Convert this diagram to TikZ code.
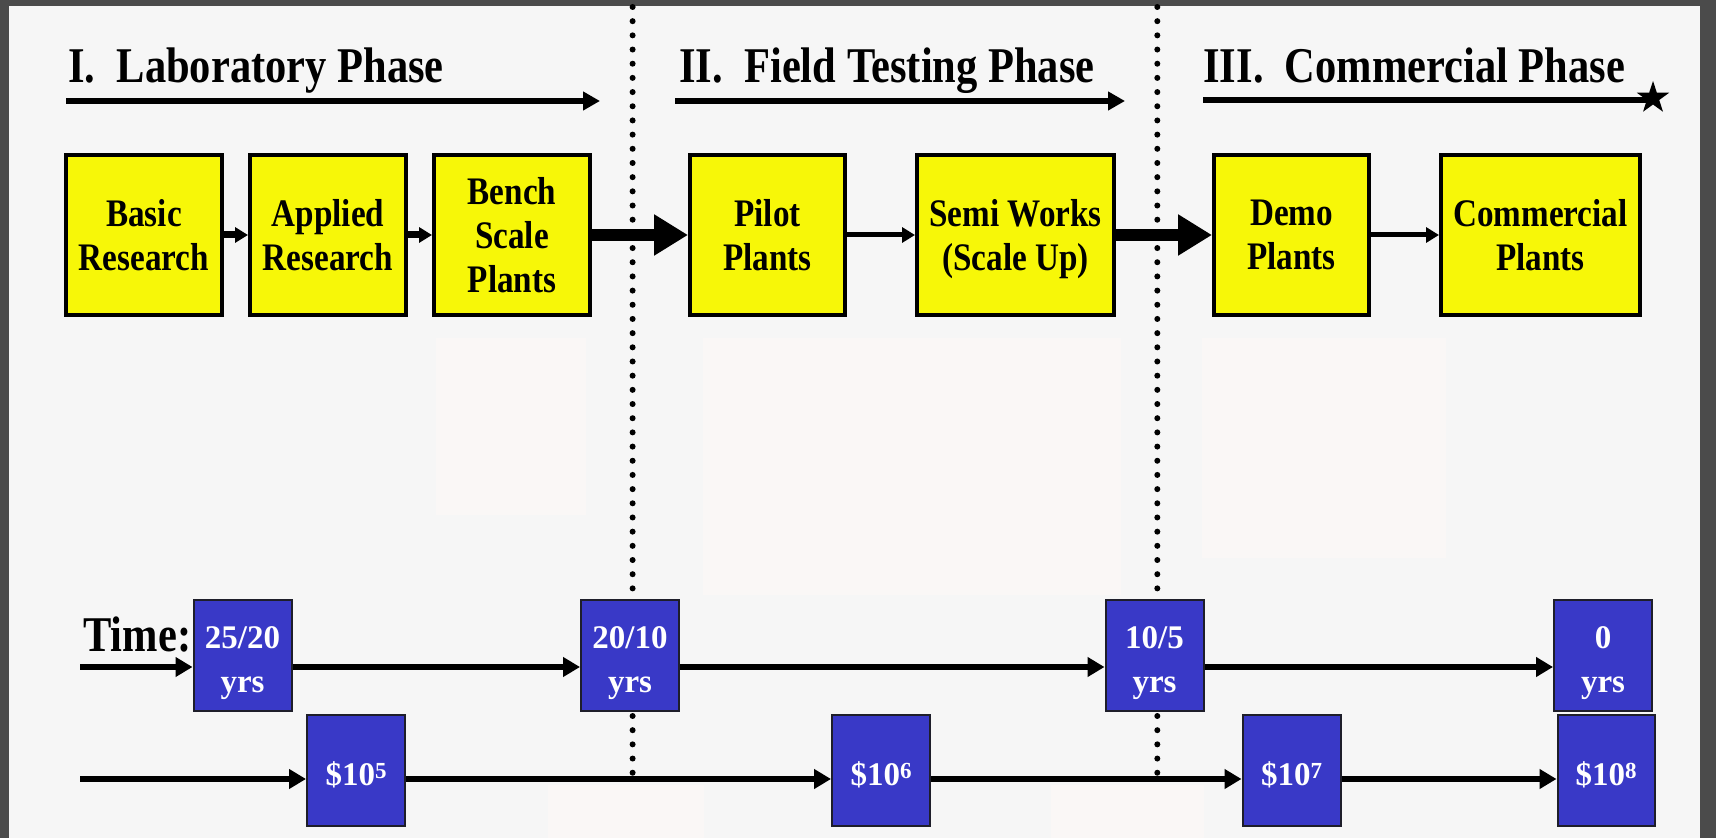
\documentclass[tikz,border=0pt]{standalone}
\usepackage{fontspec}
\setmainfont{Liberation Serif}
\newfontfamily\condbf{Liberation Serif Bold}[FakeStretch=0.85]
\newfontfamily\plainbf{Liberation Serif Bold}
\usetikzlibrary{arrows.meta,shapes.geometric,calc}
\definecolor{bgcol}{HTML}{F6F6F6}
\definecolor{framecol}{HTML}{4B4B4B}
\definecolor{faint}{HTML}{FAF7F6}
\definecolor{ybox}{HTML}{F7F708}
\definecolor{bbox}{HTML}{3939C7}
\definecolor{bline}{HTML}{1E1E2A}
\newcommand{\tup}{\rule{0pt}{18.2pt}}
\newcommand{\cost}[1]{\rule{0pt}{16.2pt}\$10\raisebox{3.4pt}{\fontsize{11.5}{12}\selectfont #1}}
\begin{document}
\begin{tikzpicture}[x=0.5pt,y=-0.5pt,
  ystage/.style={draw=black, line width=2pt, fill=ybox, minimum height=80pt,
    inner sep=0pt, align=center, font=\condbf\fontsize{19.5}{22}\selectfont},
  bstage/.style={draw=bline, line width=1pt, fill=bbox, minimum height=55.5pt,
    minimum width=49pt, inner sep=0pt, align=center, text=white,
    font=\plainbf\fontsize{16.5}{22}\selectfont},
  titletext/.style={anchor=base west, inner sep=0pt, font=\condbf\fontsize{25}{28}\selectfont},
  titlearr/.style={line width=3pt, -{Triangle[length=8.5pt,width=9pt]}},
  timearr/.style={line width=3.3pt, -{Triangle[length=8.5pt,width=9.5pt]}},
  smallarrA/.style={line width=3.5pt, -{Triangle[length=6.5pt,width=7.5pt]}},
  smallarrB/.style={line width=2.5pt, -{Triangle[length=6.5pt,width=7.5pt]}},
  bigarr/.style={line width=6pt, -{Triangle[length=17pt,width=19.5pt]}},
  dots/.style={line width=3pt, line cap=round, dash pattern=on 0pt off 7.09pt}
]
\useasboundingbox (0,0) rectangle (1716,838);
% background and frame
\fill[framecol] (0,0) rectangle (1716,838);
\fill[bgcol] (9,6) rectangle (1700,838);
% faint leftover panels
\fill[faint] (436,338) rectangle (586,515);
\fill[faint] (703,338) rectangle (1121,595);
\fill[faint] (1202,338) rectangle (1446,558);
\fill[faint] (548,785) rectangle (704,838);
\fill[faint] (1051,785) rectangle (1204,838);
% dotted phase separators
\draw[dots] (632.6,7) -- (632.6,773);
\draw[dots] (1157.3,7) -- (1157.3,773);
% titles
\node[titletext] (t1) at (68,83) {I.\ \ Laboratory Phase};
\node[titletext] (t2) at (679,83) {II.\ \ Field Testing Phase};
\node[titletext] (t3) at (1203,83) {III.\ \ Commercial Phase};
\coordinate (a1s) at (66,101);
\coordinate (a1e) at (600,101);
\coordinate (a2s) at (675,101);
\coordinate (a2e) at (1125,101);
\coordinate (a3s) at (1203,100);
\node[star, star points=5, star point ratio=2.6, fill=black, inner sep=0pt,
  minimum size=17pt] (star) at (1653,98) {};
\draw[titlearr] (a1s) -- (a1e);
\draw[titlearr] (a2s) -- (a2e);
\draw[line width=3pt] (a3s) -- (a3s -| star.center);
% stage boxes
\node[ystage, minimum width=78pt] (basic) at (144,235) {Basic\\Research};
\node[ystage, minimum width=78pt] (applied) at (328,235) {Applied\\Research};
\node[ystage, minimum width=78pt] (bench) at (512,235) {Bench\\Scale\\Plants};
\node[ystage, minimum width=77.5pt] (pilot) at (767.5,235) {Pilot\\Plants};
\node[ystage, minimum width=98.5pt] (semi) at (1015.5,235) {Semi Works\\\smash{(Scale Up)}};
\node[ystage, minimum width=77.5pt] (demo) at (1291.5,235) {Demo\\Plants};
\node[ystage, minimum width=99.5pt] (comm) at (1540.5,235) {Commercial\\Plants};
\draw[smallarrA] (basic) -- (applied);
\draw[smallarrA] (applied) -- (bench);
\draw[bigarr] (bench) -- (pilot);
\draw[smallarrB] (pilot) -- (semi);
\draw[bigarr] (semi) -- (demo);
\draw[smallarrB] (demo) -- (comm);
% time row
\node[titletext] (time) at (83,651) {Time:};
\node[bstage] (y1) at (242.5,655.5) {\tup25/20\\yrs};
\node[bstage] (y2) at (630,655.5) {\tup20/10\\yrs};
\node[bstage] (y3) at (1154.5,655.5) {\tup10/5\\yrs};
\node[bstage] (y4) at (1603,655.5) {\tup0\\yrs};
\coordinate (tl) at (80,667);
\draw[timearr] (tl) -- (tl -| y1.west);
\draw[timearr] (tl -| y1.east) -- (tl -| y2.west);
\draw[timearr] (tl -| y2.east) -- (tl -| y3.west);
\draw[timearr] (tl -| y3.east) -- (tl -| y4.west);
% cost row
\node[bstage] (m5) at (356,770.5) {\cost{5}};
\node[bstage] (m6) at (881,770.5) {\cost{6}};
\node[bstage] (m7) at (1291.5,770.5) {\cost{7}};
\node[bstage, minimum width=48.5pt] (m8) at (1606,770.5) {\cost{8}};
\coordinate (ml) at (80,779);
\draw[timearr] (ml) -- (ml -| m5.west);
\draw[timearr] (ml -| m5.east) -- (ml -| m6.west);
\draw[timearr] (ml -| m6.east) -- (ml -| m7.west);
\draw[timearr] (ml -| m7.east) -- (ml -| m8.west);
\end{tikzpicture}
\end{document}
